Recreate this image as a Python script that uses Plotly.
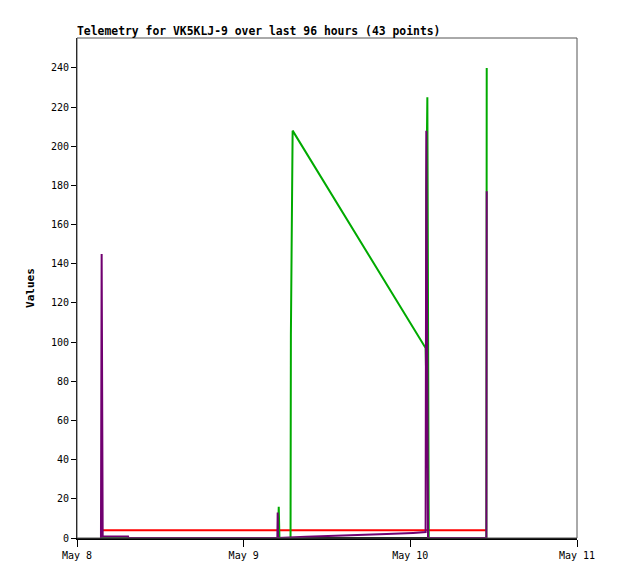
import pandas as pd
import plotly.graph_objects as go

# hours after May 8 00:00 and values per telemetry channel
start = pd.Timestamp("2023-05-08 00:00")

black_hours = [3.50, 59.0]
black_vals = [0, 0]

red_hours = [3.60, 59.0]
red_vals = [4, 4]

green_hours = [3.50, 28.95, 29.05, 29.15, 30.75, 30.80, 31.05, 50.20, 50.25,
               50.30, 50.45, 50.55, 50.65, 58.95, 59.00]
green_vals = [0, 0, 16, 0, 0, 104, 208, 97, 88,
              177, 225, 112, 0, 0, 240]

purple_hours = [3.45, 3.50, 3.55, 3.70, 7.35, 7.40, 28.85, 28.90, 28.95,
                33.0, 36.9, 40.8, 44.6, 48.4, 50.20, 50.30, 50.45, 50.55,
                58.95, 59.00]
purple_vals = [0, 73, 145, 0.8, 0.8, 0, 0, 13, 0,
               0.6, 1.0, 1.5, 2.0, 2.6, 3.0, 208, 112, 0,
               0, 177]

tick_days = ["2023-05-08", "2023-05-09", "2023-05-10", "2023-05-11"]
tick_text = ["May 8", "May 9", "May 10", "May 11"]
y_ticks = list(range(0, 241, 20))

font = "DejaVu Sans Mono, monospace"


def to_times(hours):
    return [start + pd.Timedelta(hours=h) for h in hours]


fig = go.Figure()
series = [
    (black_hours, black_vals, "#000000"),
    (red_hours, red_vals, "#ff0000"),
    (green_hours, green_vals, "#00aa00"),
    (purple_hours, purple_vals, "#700070"),
]
for hours, vals, color in series:
    fig.add_trace(go.Scatter(x=to_times(hours), y=vals, mode="lines",
                             line=dict(color=color, width=2),
                             showlegend=False))

# the page body has an 8px margin, so the figure is a bit smaller than the window
fig.update_layout(
    width=610, height=571,
    margin=dict(l=69, r=41, t=30, b=41),
    plot_bgcolor="#ffffff", paper_bgcolor="#ffffff",
    font=dict(family=font, size=10, color="#000000"),
    title=dict(text="<b>Telemetry for VK5KLJ-9 over last 96 hours (43 points)</b>",
               x=0, xref="paper", xanchor="left",
               y=1, yref="paper", yanchor="bottom", pad=dict(b=3),
               font=dict(family=font, size=11.4, color="#000000")),
    shapes=[dict(type="rect", xref="paper", yref="paper", x0=0, y0=0, x1=1, y1=1,
                 line=dict(color="#555555", width=1), layer="above")],
)
fig.update_xaxes(range=[tick_days[0], tick_days[-1]],
                 tickvals=tick_days, ticktext=tick_text,
                 ticks="outside", ticklen=7, tickcolor="#000000",
                 showline=True, linecolor="#000000", linewidth=2,
                 showgrid=False, zeroline=False,
                 tickfont=dict(family=font, size=10))
fig.update_yaxes(range=[0, 255.3], tickvals=y_ticks,
                 ticks="outside", ticklen=5, tickcolor="#000000",
                 showline=True, linecolor="#000000", linewidth=1,
                 showgrid=False, zeroline=False,
                 title=dict(text="<b>Values</b>", standoff=14,
                            font=dict(family=font, size=11)),
                 tickfont=dict(family=font, size=10))

fig.write_html("out.html")
